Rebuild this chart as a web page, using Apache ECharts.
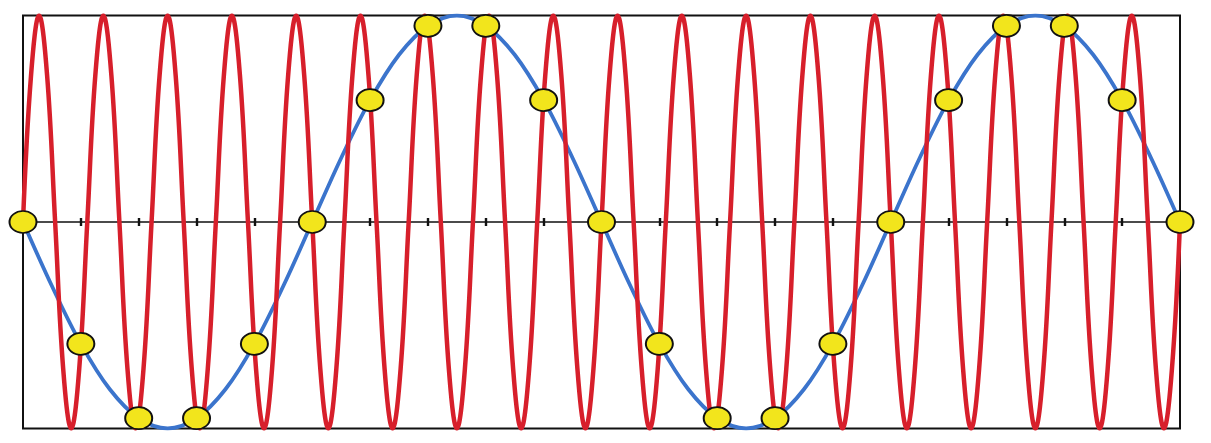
<!DOCTYPE html>
<html>
<head>
<meta charset="utf-8">
<script src="https://cdn.jsdelivr.net/npm/echarts@6/dist/echarts.min.js"></script>
<style>
html,body{margin:0;padding:0;background:#fff;}
#chart{width:1211px;height:443px;}
</style>
</head>
<body>
<div id="chart"></div>
<script>
// Sample indices (ticks) and sampled values (yellow dots)
const sampleLabels = ['0','1','2','3','4','5','6','7','8','9','10','11','12','13','14','15','16','17','18','19','20'];
const sampleValues = [0,-0.59,-0.95,-0.95,-0.59,0,0.59,0.95,0.95,0.59,0,-0.59,-0.95,-0.95,-0.59,0,0.59,0.95,0.95,0.59,0];

// Blue (low-frequency) curve, read at every half sample
const blueLabels = ['0','0.5','1','1.5','2','2.5','3','3.5','4','4.5','5','5.5','6','6.5','7','7.5','8','8.5','9','9.5','10',
  '10.5','11','11.5','12','12.5','13','13.5','14','14.5','15','15.5','16','16.5','17','17.5','18','18.5','19','19.5','20'];
const blueValues = [0,-0.31,-0.59,-0.81,-0.95,-1,-0.95,-0.81,-0.59,-0.31,
  0,0.31,0.59,0.81,0.95,1,0.95,0.81,0.59,0.31,
  0,-0.31,-0.59,-0.81,-0.95,-1,-0.95,-0.81,-0.59,-0.31,
  0,0.31,0.59,0.81,0.95,1,0.95,0.81,0.59,0.31,0];

// Red (high-frequency) curve, read at every eighth of its cycle (18 cycles)
const redValues = [
  0,0.71,1,0.71,0,-0.71,-1,-0.71,
  0,0.71,1,0.71,0,-0.71,-1,-0.71,
  0,0.71,1,0.71,0,-0.71,-1,-0.71,
  0,0.71,1,0.71,0,-0.71,-1,-0.71,
  0,0.71,1,0.71,0,-0.71,-1,-0.71,
  0,0.71,1,0.71,0,-0.71,-1,-0.71,
  0,0.71,1,0.71,0,-0.71,-1,-0.71,
  0,0.71,1,0.71,0,-0.71,-1,-0.71,
  0,0.71,1,0.71,0,-0.71,-1,-0.71,
  0,0.71,1,0.71,0,-0.71,-1,-0.71,
  0,0.71,1,0.71,0,-0.71,-1,-0.71,
  0,0.71,1,0.71,0,-0.71,-1,-0.71,
  0,0.71,1,0.71,0,-0.71,-1,-0.71,
  0,0.71,1,0.71,0,-0.71,-1,-0.71,
  0,0.71,1,0.71,0,-0.71,-1,-0.71,
  0,0.71,1,0.71,0,-0.71,-1,-0.71,
  0,0.71,1,0.71,0,-0.71,-1,-0.71,
  0,0.71,1,0.71,0,-0.71,-1,-0.71,
  0];
const redLabels = redValues.map((v, i) => String(i));

const gridTop = 15.5, gridBottom = 14.5, chartH = 443;
const halfH = (chartH - gridTop - gridBottom) / 2;

const chart = echarts.init(document.getElementById('chart'), null, {renderer: 'canvas'});
const hiddenAxis = (data) => ({
  type: 'category', data: data, boundaryGap: false, show: false
});
chart.setOption({
  animation: false,
  backgroundColor: '#ffffff',
  grid: {left: 23, right: 31, top: gridTop, bottom: gridBottom, show: true, borderColor: '#111', borderWidth: 2, backgroundColor: 'transparent'},
  xAxis: [
    {type: 'category', data: sampleLabels, boundaryGap: false, position: 'bottom',
     axisLine: {show: true, onZero: true, lineStyle: {color: '#111', width: 1.6}},
     axisTick: {show: true, interval: 0, length: 4, lineStyle: {color: '#111', width: 2.4}},
     axisLabel: {show: false}, splitLine: {show: false}},
    {type: 'category', data: sampleLabels, boundaryGap: false, position: 'top', offset: -halfH,
     axisLine: {show: false, onZero: false},
     axisTick: {show: true, interval: 0, length: 4, lineStyle: {color: '#111', width: 2.4}},
     axisLabel: {show: false}, splitLine: {show: false}},
    hiddenAxis(blueLabels),
    hiddenAxis(redLabels)
  ],
  yAxis: {type: 'value', min: -1, max: 1, show: false, splitLine: {show: false}},
  series: [
    {type: 'line', xAxisIndex: 2, data: blueValues, smooth: 0.35, showSymbol: false,
     lineStyle: {color: '#3b74cc', width: 3.8}, z: 2},
    {type: 'line', xAxisIndex: 3, data: redValues, smooth: 0.4, showSymbol: false,
     lineStyle: {color: '#d71f2b', width: 4.5}, z: 3},
    {type: 'line', xAxisIndex: 0, data: sampleValues, showSymbol: true,
     symbol: 'path://M0,10 A10,10 0 1,1 20,10 A10,10 0 1,1 0,10 Z',
     symbolSize: [27, 22], clip: false,
     lineStyle: {opacity: 0, width: 0},
     itemStyle: {color: '#f2e51c', borderColor: '#111', borderWidth: 1.8}, z: 5}
  ]
});
</script>
</body>
</html>
